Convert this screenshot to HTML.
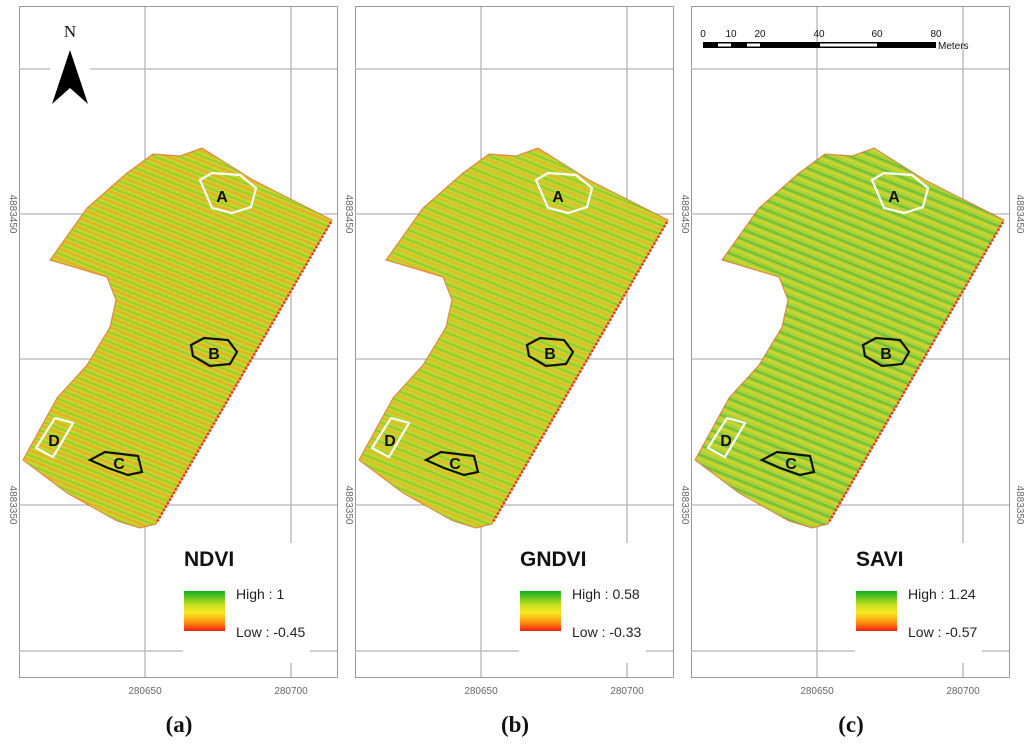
<!DOCTYPE html>
<html><head><meta charset="utf-8"><style>
body{margin:0;background:#fff;}
svg text{font-family:"Liberation Sans",sans-serif;}
</style></head><body>
<svg id="fig" width="1024" height="745" viewBox="0 0 1024 745" xmlns="http://www.w3.org/2000/svg">
<defs>
<linearGradient id="leg" x1="0" y1="0" x2="0" y2="1">
<stop offset="0" stop-color="#10b020"/><stop offset="0.35" stop-color="#c8e020"/><stop offset="0.55" stop-color="#f8e820"/><stop offset="0.8" stop-color="#ff8a10"/><stop offset="1" stop-color="#f02010"/>
</linearGradient>
<pattern id="stA" width="9" height="9" patternUnits="userSpaceOnUse" patternTransform="rotate(22)">
<rect width="9" height="9" fill="#c4d62c"/><rect y="0" width="9" height="2.5" fill="#e8b028"/><rect y="5" width="9" height="2" fill="#9ccc30"/></pattern>
<pattern id="stB" width="9" height="9" patternUnits="userSpaceOnUse" patternTransform="rotate(22)">
<rect width="9" height="9" fill="#bcd82e"/><rect y="0" width="9" height="2.2" fill="#e8b82a"/><rect y="5" width="9" height="2" fill="#94cc30"/></pattern>
<pattern id="stC" width="9" height="9" patternUnits="userSpaceOnUse" patternTransform="rotate(22)">
<rect width="9" height="9" fill="#a8d438"/><rect y="0" width="9" height="2" fill="#d8d02c"/><rect y="5" width="9" height="2.5" fill="#78c038"/></pattern>
</defs>
</svg>
<script>
const panelIds=['a','b','c'];
const indexNames=['NDVI','GNDVI','SAVI'];
const highVals=['1','0.58','1.24'];
const lowVals=['-0.45','-0.33','-0.57'];
const xTicks=['280650','280700'];
const yTicks=['4883450','4883350'];
const NS='http://www.w3.org/2000/svg';
const svg=document.getElementById('fig');
function mk(tag,attrs,parent){const e=document.createElementNS(NS,tag);for(const k in attrs)e.setAttribute(k,attrs[k]);(parent||svg).appendChild(e);return e;}
const field=[[50,260],[60,246],[87,208],[127,173],[153,154],[180,156],[202,148],[253,180],[332,220],[156,524],[140,528],[117,521],[67,493],[23,460],[57,398],[87,365],[110,327],[116,300],[107,277],[67,265]];
panelIds.forEach((p,i)=>{
 const dx=i*336;
 const g=mk('g',{transform:'translate('+dx+',0)'});
 
 
 const fr=mk('rect',{x:19.5,y:6.5,width:318,height:671,fill:'none',stroke:'#9a9a9a','stroke-width':1},g);
 
 
 const gl={stroke:'#b4b4b4','stroke-width':1.3,fill:'none'};
 mk('line',Object.assign({x1:145,y1:7,x2:145,y2:677},gl),g);
 mk('line',Object.assign({x1:291,y1:7,x2:291,y2:543},gl),g);
 mk('line',Object.assign({x1:291,y1:663,x2:291,y2:677},gl),g);
 if(i==0){mk('line',Object.assign({x1:19,y1:69,x2:50,y2:69},gl),g);mk('line',Object.assign({x1:90,y1:69,x2:337,y2:69},gl),g);}
 else mk('line',Object.assign({x1:19,y1:69,x2:337,y2:69},gl),g);
 [214,359,505].forEach(y=>mk('line',Object.assign({x1:19,y1:y,x2:337,y2:y},gl),g));
 mk('line',Object.assign({x1:19,y1:651,x2:183,y2:651},gl),g);
 mk('line',Object.assign({x1:310,y1:651,x2:337,y2:651},gl),g);
 const f=mk('polygon',{points:field.map(q=>q.join(',')).join(' '),fill:'url(#st'+['A','B','C'][i]+')',stroke:'#e85020','stroke-width':1.2,'stroke-opacity':0.6},g);
 
 
 mk('line',{x1:331,y1:222,x2:157,y2:522,stroke:'#f03018','stroke-width':2.5,'stroke-dasharray':'2 2'},g);
 const roi=[['A','200,180 212,173 240,175 256,188 251,207 232,213 212,208','#fff',222,202],
  ['B','191,345 204,338 228,340 237,352 230,364 210,366 193,356','#111',214,359],
  ['C','90,460 105,452 138,456 142,472 128,475 108,468','#111',119,469],
  ['D','36,448 55,418 73,423 53,457','#fff',54,446]];
 roi.forEach(r=>{
  const rg=mk('g',{},g);
  
  
  mk('polygon',{points:r[1],fill:'none',stroke:r[2],'stroke-width':2.2},rg);
  const t=mk('text',{x:r[3],y:r[4],'font-size':16,'font-weight':'bold','text-anchor':'middle',fill:'#111'},rg);t.textContent=r[0];
 });
 const lg=mk('g',{},g);
 
 
 const tt=mk('text',{x:184,y:566,'font-size':21,'font-weight':'bold',fill:'#111'},lg);tt.textContent=indexNames[i];
 mk('rect',{x:184,y:591,width:41,height:40,fill:'url(#leg)'},lg);
 const h=mk('text',{x:236,y:599,'font-size':14,fill:'#222'},lg);h.textContent='High : '+highVals[i];
 const l=mk('text',{x:236,y:637,'font-size':14,fill:'#222'},lg);l.textContent='Low : '+lowVals[i];
 [145,291].forEach((x,k)=>{const t=mk('text',{x:x,y:694,'font-size':10,'text-anchor':'middle',fill:'#666'},g);t.textContent=xTicks[k];
  });
 [214,505].forEach((y,k)=>{
  const t=mk('text',{x:0,y:0,'font-size':10,'text-anchor':'middle',fill:'#666',transform:'translate(10,'+y+') rotate(90)'},g);t.textContent=yTicks[k];
  if(i==2){const t2=mk('text',{x:0,y:0,'font-size':10,'text-anchor':'middle',fill:'#666',transform:'translate(345,'+y+') rotate(90)'},g);t2.textContent=yTicks[k];}
 });
 const cap=mk('text',{x:179,y:732,'font-size':23,'font-weight':'bold','text-anchor':'middle',fill:'#111'},g);
 cap.setAttribute('style','font-family:"Liberation Serif",serif');
 cap.textContent='('+p+')';
 
 
});
const na=mk('g',{});


const nt=mk('text',{x:70,y:37,'font-size':17,'text-anchor':'middle',fill:'#111',style:'font-family:"Liberation Serif",serif'},na);nt.textContent='N';
mk('polygon',{points:'70,50 52,104 70,88 88,104',fill:'#000'},na);
const sb=mk('g',{});


mk('rect',{x:703,y:42,width:233,height:6,fill:'#000'},sb);
[[718,731],[747,760],[820,877]].forEach(s=>mk('rect',{x:s[0],y:43.5,width:s[1]-s[0],height:3,fill:'#fff'},sb));
[['0',703],['10',731],['20',760],['40',819],['60',877],['80',936]].forEach(s=>{const t=mk('text',{x:s[1],y:37,'font-size':10,'text-anchor':'middle',fill:'#111'},sb);t.textContent=s[0];});
const mt=mk('text',{x:938,y:49,'font-size':10,fill:'#111'},sb);mt.textContent='Meters';
</script>
</body></html>
